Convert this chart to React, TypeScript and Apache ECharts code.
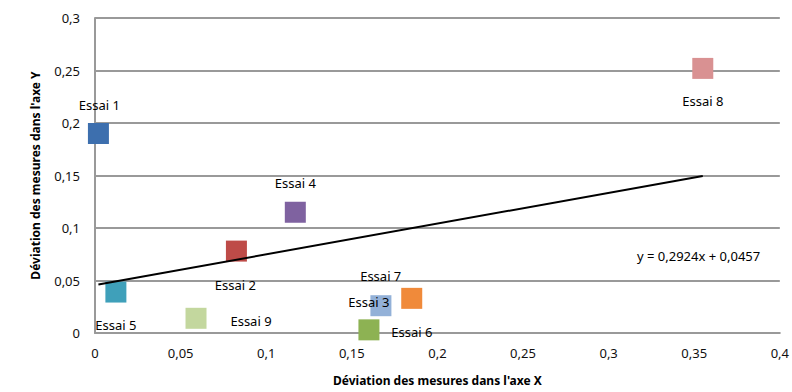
import React, { useEffect, useRef } from "react";
import * as echarts from "echarts";

const names = ["Essai 1", "Essai 2", "Essai 3", "Essai 4", "Essai 5", "Essai 6", "Essai 7", "Essai 8", "Essai 9"];
const xValues = [0.002, 0.0826, 0.167, 0.117, 0.0122, 0.16, 0.185, 0.355, 0.059];
const yValues = [0.19, 0.078, 0.026, 0.115, 0.039, 0.003, 0.033, 0.252, 0.014];
const colors = ["#3D6FAE", "#BE4B48", "#93B1D8", "#7F62A0", "#3FA0BA", "#8DB253", "#F08A3A", "#D99192", "#C3D79E"];
// label offsets (layout only)
const labelOffsets: [number, number][] = [
  [1, -29], [-1, 34], [-12, -4], [0, -29], [0, 33], [43, 2], [-31, -22], [0, 33], [55, 3],
];
const slope = 0.2924;
const intercept = 0.0457;
const equationText = "y = 0,2924x + 0,0457";

const fmt = (v: number) => String(Math.round(v * 1000) / 1000).replace(".", ",");

export default function App() {
  const ref = useRef<HTMLDivElement>(null);
  useEffect(() => {
    if (!ref.current) return;
    const chart = echarts.init(ref.current, null, { renderer: "svg" });
    const xMin = Math.min(...xValues);
    const xMax = Math.max(...xValues);
    const font = "'Noto Sans', sans-serif";
    chart.setOption({
      animation: false,
      backgroundColor: "#fff",
      textStyle: { fontFamily: font },
      grid: { left: 95, right: 9, top: 18, bottom: 59 },
      xAxis: {
        type: "value",
        min: 0,
        max: 0.4,
        interval: 0.05,
        name: "Déviation des mesures dans l'axe X",
        nameLocation: "middle",
        nameGap: 41,
        nameTextStyle: { fontFamily: font, fontWeight: "bold", fontSize: 12, color: "#000" },
        axisLine: { show: true, onZero: false, lineStyle: { color: "#999", width: 2 } },
        axisTick: { show: false },
        splitLine: { show: false },
        axisLabel: { formatter: fmt, color: "#111", fontSize: 13, margin: 13, fontFamily: font },
      },
      yAxis: {
        type: "value",
        min: 0,
        max: 0.3,
        interval: 0.05,
        name: "Déviation des mesures dans l'axe Y",
        nameLocation: "middle",
        nameGap: 54,
        nameRotate: 90,
        nameTextStyle: { fontFamily: font, fontWeight: "bold", fontSize: 12, color: "#000" },
        axisLine: { show: true, lineStyle: { color: "#999", width: 2 } },
        axisTick: { show: false },
        splitLine: { show: true, lineStyle: { color: "#999", width: 2 } },
        axisLabel: { formatter: fmt, color: "#111", fontSize: 13, margin: 15, fontFamily: font },
      },
      series: [
        {
          type: "line",
          data: [
            [xMin, slope * xMin + intercept],
            [xMax, slope * xMax + intercept],
          ],
          symbol: "none",
          lineStyle: { color: "#000", width: 2 },
          z: 3,
        },
        {
          type: "scatter",
          symbol: "rect",
          symbolSize: 21,
          z: 2,
          itemStyle: { opacity: 1 },
          data: names.map((n, i) => ({
            name: n,
            value: [xValues[i], yValues[i]],
            itemStyle: { color: colors[i], opacity: 1 },
            label: {
              show: true,
              formatter: n,
              position: "inside",
              offset: labelOffsets[i],
              color: "#000",
              fontSize: 13,
              fontFamily: font,
            },
          })),
        },
      ],
      graphic: [
        {
          type: "text",
          left: 637,
          top: 249,
          style: { text: equationText, fill: "#000", fontSize: 13, fontFamily: font },
        },
      ],
    });
    return () => chart.dispose();
  }, []);
  return <div ref={ref} style={{ width: 792, height: 392, position: "absolute", left: 0, top: 0 }} />;
}
